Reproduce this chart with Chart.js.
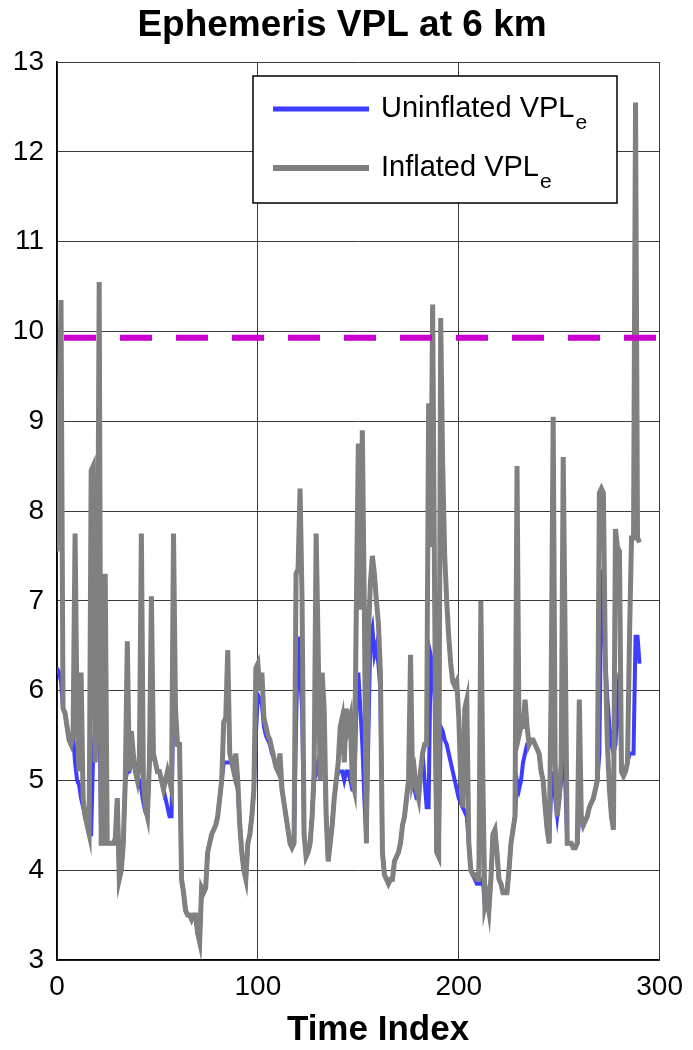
<!DOCTYPE html>
<html>
<head>
<meta charset="utf-8">
<script src="https://cdn.jsdelivr.net/npm/chart.js@4"></script>
<style>
  html, body { margin: 0; padding: 0; background: #ffffff; }
  #wrap { width: 693px; height: 1050px; }
</style>
</head>
<body>
<div id="wrap"><canvas id="vplChart" width="693" height="1050"></canvas></div>
<script>
// values, one per time index (0..290)
const inflatedVPL = [
  7.55, 8.8, 10.35, 5.8, 5.75, 5.6, 5.45, 5.4, 5.5, 7.75,
  5.7, 5.1, 6.2, 4.8, 4.6, 4.5, 4.4, 8.45, 8.5, 5.2,
  5.9, 10.55, 4.3, 4.3, 7.3, 4.3, 4.3, 4.3, 4.3, 4.35, 4.8,
  3.9, 4.0, 4.3, 5.0, 6.55, 5.1, 5.55, 5.3, 5.1, 5.0,
  5.2, 7.75, 5.0, 4.7, 4.6, 5.2, 7.05, 5.3, 5.2, 5.1,
  5.1, 5.0, 4.9, 5.0, 5.1, 5.0, 4.9, 7.75, 5.8, 5.4,
  5.4, 3.9, 3.75, 3.55, 3.5, 3.5, 3.45, 3.5, 3.5, 3.3,
  3.2, 3.8, 3.75, 3.8, 4.2, 4.3, 4.4, 4.45, 4.5, 4.6, 4.8,
  5.0, 5.65, 5.7, 6.45, 5.3, 5.2, 5.1, 5.3, 5.0, 4.5,
  4.2, 4.0, 3.9, 4.3, 4.4, 4.6, 4.9, 6.25, 6.3, 6.0,
  6.2, 5.7, 5.6, 5.5, 5.45, 5.35, 5.25, 5.15, 5.1, 5.3,
  4.9, 4.75, 4.6, 4.45, 4.3, 4.25, 4.3, 7.3, 7.35, 8.25,
  7.0, 4.4, 4.15, 4.2, 4.3, 4.6, 5.1, 7.75, 6.5, 5.0,
  6.2, 5.8, 4.6, 4.1, 4.3, 4.5, 4.8, 5.0, 5.2, 5.6,
  5.7, 5.2, 5.8, 5.6, 5.7, 5.0, 4.9, 6.9, 8.75, 6.9,
  8.9, 6.9, 4.3, 6.6, 7.2, 7.5, 7.3, 7.0, 6.75, 6.2,
  4.2, 3.95, 3.9, 3.85, 3.9, 3.9, 4.1, 4.15, 4.2, 4.3,
  4.5, 4.6, 4.8, 5.0, 6.4, 5.0, 5.1, 4.9, 4.8, 5.1,
  5.3, 5.4, 5.4, 9.2, 7.6, 10.3, 7.0, 4.2, 4.15, 10.15,
  8.5, 7.5, 7.0, 6.6, 6.3, 6.1, 6.05, 6.1, 5.7, 5.0,
  4.7, 5.8, 5.9, 4.3, 4.0, 3.95, 3.95, 3.9, 3.9, 7.0,
  5.0, 3.6, 3.7, 3.55, 3.9, 4.4, 4.45, 4.2, 3.9, 3.85,
  3.75, 3.75, 3.75, 4.0, 4.3, 4.45, 4.6, 8.5, 5.5, 5.6,
  5.6, 5.9, 5.6, 5.4, 5.45, 5.45, 5.4, 5.35, 5.3, 5.1,
  5.0, 4.7, 4.45, 4.3, 6.0, 9.05, 5.2, 4.6, 4.8, 5.2,
  8.6, 6.5, 4.3, 4.3, 4.3, 4.25, 4.25, 4.3, 5.9, 4.6,
  4.5, 4.55, 4.6, 4.7, 4.75, 4.8, 4.9, 5.0, 8.2, 8.25,
  8.2, 6.3, 5.4, 4.9, 4.6, 4.45, 7.8, 7.6, 7.55, 5.1,
  5.05, 5.1, 5.2, 6.6, 7.7, 7.7, 12.55, 7.7, 7.65
];

const uninflatedVPL = [
  6.25, 6.2, 6.1, 5.8, 5.75, 5.6, 5.45, 5.4, 5.5, 5.2,
  5.0, 4.95, 4.8, 4.7, 4.6, 4.5, 4.4, 4.4, 5.3, 5.6,
  6.5, 5.9, 4.3, 4.3, 4.3, 4.3, 4.3, 4.3, 4.3, 4.3, 4.8,
  3.9, 4.0, 4.3, 5.0, 5.1, 5.1, 5.2, 5.2, 5.1, 5.0,
  5.0, 4.9, 4.75, 4.65, 4.6, 5.2, 5.3, 5.25, 5.2, 5.1,
  5.1, 5.0, 4.9, 4.8, 4.7, 4.6, 4.6, 6.0, 5.6, 5.4,
  5.4, 3.9, 3.75, 3.55, 3.5, 3.5, 3.45, 3.5, 3.5, 3.3,
  3.2, 3.8, 3.75, 3.8, 4.2, 4.3, 4.4, 4.45, 4.5, 4.6, 4.8,
  5.0, 5.2, 5.2, 5.2, 5.2, 5.2, 5.1, 5.0, 4.9, 4.5,
  4.2, 4.0, 3.9, 4.3, 4.4, 4.6, 4.9, 5.5, 5.95, 5.9,
  5.85, 5.6, 5.5, 5.45, 5.4, 5.3, 5.25, 5.15, 5.1, 5.1,
  4.9, 4.75, 4.6, 4.45, 4.3, 4.25, 4.3, 5.6, 6.6, 6.2,
  5.8, 4.4, 4.15, 4.2, 4.3, 4.6, 5.0, 5.1, 5.2, 5.0,
  5.5, 5.4, 4.6, 4.1, 4.3, 4.5, 4.8, 5.0, 5.1, 5.1,
  5.1, 5.0, 5.1, 5.1, 5.0, 4.9, 4.9, 5.8, 6.2, 5.8,
  5.4, 4.8, 4.3, 5.5, 6.6, 6.7, 6.4, 6.5, 6.3, 6.0,
  4.2, 3.95, 3.9, 3.85, 3.9, 3.9, 4.1, 4.15, 4.2, 4.3,
  4.5, 4.6, 4.8, 5.0, 5.1, 5.0, 4.9, 4.8, 4.8, 5.1,
  5.3, 5.0, 4.7, 4.7, 6.4, 6.3, 5.9, 4.2, 4.15, 5.6,
  5.55, 5.45, 5.4, 5.3, 5.2, 5.1, 5.0, 4.9, 4.8, 4.75,
  4.7, 4.65, 4.6, 4.3, 4.0, 3.95, 3.9, 3.85, 3.85, 3.85,
  3.9, 3.6, 3.7, 3.55, 3.9, 4.4, 4.45, 4.2, 3.9, 3.85,
  3.75, 3.75, 3.75, 4.0, 4.3, 4.45, 4.6, 5.0, 4.9, 5.0,
  5.2, 5.3, 5.4, 5.4, 5.45, 5.45, 5.4, 5.35, 5.3, 5.1,
  5.0, 4.7, 4.45, 4.3, 4.9, 5.1, 4.8, 4.6, 4.8, 5.0,
  5.2, 5.0, 4.3, 4.3, 4.3, 4.25, 4.25, 4.3, 4.6, 4.6,
  4.5, 4.55, 4.6, 4.7, 4.75, 4.8, 4.9, 5.0, 5.3, 7.35,
  6.9, 6.3, 5.9, 5.6, 5.4, 5.3, 5.4, 5.8, 6.2, 5.1,
  5.05, 5.1, 5.2, 5.3, 5.3, 5.3, 6.6, 6.6, 6.3
];

const timeIndex = inflatedVPL.map((_, i) => i);
const limitVPL = 9.93;
const limitSpan = [0, 300];
const xTicks = [0, 100, 200, 300];
const yTicks = [3, 4, 5, 6, 7, 8, 9, 10, 11, 12, 13];

const BLUE = '#3d3dff';
const GRAY = '#808080';
const MAGENTA = '#cc00cc';
const GRID = '#3a3a3a';
const FONT = '"Liberation Sans", Arial, sans-serif';

// title, axis label and legend drawn by hand (subscript "e", off-centre texts)
const extraTexts = {
  id: 'extraTexts',
  afterDraw(chart) {
    const c = chart.ctx;
    c.save();
    c.fillStyle = '#000000';
    c.textAlign = 'center';
    c.textBaseline = 'alphabetic';
    c.font = 'bold 37px ' + FONT;
    c.fillText('Ephemeris VPL at 6 km', 342, 36);
    c.font = 'bold 35px ' + FONT;
    c.fillText('Time Index', 378, 1040);
    c.restore();
  }
};

const legendBox = {
  id: 'legendBox',
  afterDatasetsDraw(chart) {
    const c = chart.ctx;
    const x0 = 253, y0 = 76, w = 364, h = 127;
    c.save();
    c.fillStyle = '#ffffff';
    c.fillRect(x0, y0, w, h);
    c.strokeStyle = '#000000';
    c.lineWidth = 1.5;
    c.strokeRect(x0, y0, w, h);

    const rows = [
      { text: 'Uninflated VPL', color: BLUE, lw: 5, y: 109 },
      { text: 'Inflated VPL', color: GRAY, lw: 6, y: 168 }
    ];
    rows.forEach(r => {
      c.strokeStyle = r.color;
      c.lineWidth = r.lw;
      c.beginPath();
      c.moveTo(273, r.y);
      c.lineTo(369, r.y);
      c.stroke();
      c.fillStyle = '#000000';
      c.textBaseline = 'alphabetic';
      c.textAlign = 'left';
      c.font = '29px ' + FONT;
      c.fillText(r.text, 381, r.y + 8);
      const tw = c.measureText(r.text).width;
      c.font = '21px ' + FONT;
      c.fillText('e', 381 + tw + 1, r.y + 20);
    });
    c.restore();
  }
};

const ctx = document.getElementById('vplChart').getContext('2d');
new Chart(ctx, {
  type: 'line',
  data: {
    datasets: [{
      label: 'Uninflated VPLe',
      data: timeIndex.map((t, i) => ({ x: t, y: uninflatedVPL[i] })),
      borderColor: BLUE,
      borderWidth: 4,
      pointRadius: 0,
      tension: 0,
      order: 3
    }, {
      label: 'Inflated VPLe',
      data: timeIndex.map((t, i) => ({ x: t, y: inflatedVPL[i] })),
      borderColor: GRAY,
      borderWidth: 5,
      pointRadius: 0,
      tension: 0,
      order: 2
    }, {
      label: 'Limit',
      data: limitSpan.map(t => ({ x: t, y: limitVPL })),
      borderColor: MAGENTA,
      borderWidth: 6,
      borderDash: [32, 24],
      borderDashOffset: 49,
      borderCapStyle: 'butt',
      pointRadius: 0,
      order: 1
    }]
  },
  options: {
    responsive: false,
    animation: false,
    layout: { padding: { left: 0, right: 30, top: 62, bottom: 0 } },
    plugins: {
      legend: { display: false },
      tooltip: { enabled: false },
      title: { display: false }
    },
    scales: {
      x: {
        type: 'linear',
        min: 0,
        max: 300,
        afterBuildTicks: s => { s.ticks = xTicks.map(v => ({ value: v })); },
        afterFit: s => { s.height = 90; },
        grid: { color: GRID, lineWidth: 1, drawTicks: false },
        border: { color: '#000000', width: 1.5 },
        ticks: {
          color: '#000000',
          padding: 10,
          maxRotation: 0,
          font: { family: FONT, size: 28 }
        }
      },
      y: {
        min: 3,
        max: 13,
        afterBuildTicks: s => { s.ticks = yTicks.map(v => ({ value: v })); },
        afterFit: s => { s.width = 57; },
        grid: { color: GRID, lineWidth: 1, drawTicks: false },
        border: { color: '#000000', width: 1.5 },
        ticks: {
          color: '#000000',
          padding: 13,
          font: { family: FONT, size: 28 }
        }
      }
    }
  },
  plugins: [legendBox, extraTexts]
});
</script>
</body>
</html>
